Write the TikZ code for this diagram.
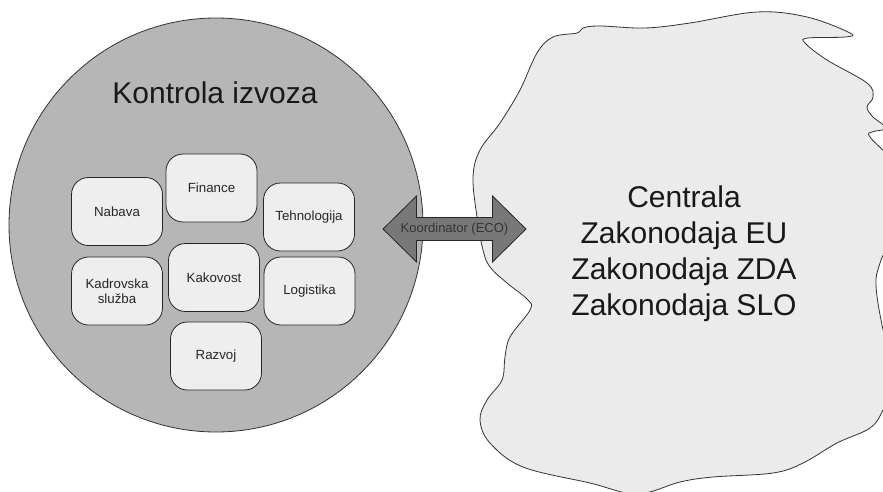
\documentclass[tikz,border=0pt]{standalone}
\usepackage{fontspec}
\setmainfont{Liberation Sans}
\usepackage{tikz}
\usetikzlibrary{positioning,calc}
\definecolor{diskgray}{HTML}{B6B6B6}
\definecolor{boxgray}{HTML}{EEEEEE}
\definecolor{cloudgray}{HTML}{EBEBEB}
\definecolor{arrowgray}{HTML}{787878}
\tikzset{hubdisk/.style={draw=black!80,fill=diskgray,line width=.8pt}, deptbox/.style={draw=black!85,fill=boxgray,rounded corners=17pt,line width=.8pt,minimum width=91pt,minimum height=68pt,align=center,font=\fontsize{13.3}{15}\selectfont,text=black!85,inner sep=2pt}, cloudline/.style={draw=black!80,fill=cloudgray,line width=.8pt}, ecoarrow/.style={draw=black!85,fill=arrowgray,line width=.8pt}, bigtext/.style={font=\fontsize{30}{36}\selectfont,align=center,text=black!90}}

\begin{document}
\begin{tikzpicture}[x=1pt,y=-1pt]
\useasboundingbox (0,0) rectangle (883,492);
\clip (0,0) rectangle (883,492);
\fill[white] (0,0) rectangle (883,492);
\draw[cloudline] plot[smooth cycle,tension=.6] coordinates {(480,150) (500,123) (520,90) (537,53) (553,37) (577,33) (583,28) (600,26) (645,28) (690,23) (757,12) (807,17) (850,33) (845,37) (808,38) (805,43) (827,60) (867,83) (873,97) (867,107) (873,117) (886,128) (872,132) (870,137) (892,165) (896,220) (880,263) (876,285) (882,325) (895,380) (883,410) (870,428) (837,443) (803,463) (773,473) (713,477) (680,482) (637,494) (590,483) (523,467) (490,443) (480,420) (487,400) (502,380) (505,357) (510,337) (530,310) (528,300) (507,283) (490,267) (483,250) (477,217) (473,177)};
\node[bigtext] (central) at (684,254) {Centrala\\Zakonodaja EU\\Zakonodaja ZDA\\Zakonodaja SLO};
\draw[hubdisk] (216,225) circle [radius=207];
\node[bigtext] (title) at (215,93) {Kontrola izvoza};
\node[deptbox] (fin) at (211.5,188) {Finance};
\node[deptbox] (nab) at (117,211.5) {Nabava};
\node[deptbox] (teh) at (309,217) {Tehnologija};
\node[deptbox] (kad) at (117,291) {Kadrovska\\služba};
\node[deptbox] (kak) at (214,277.5) {Kakovost};
\node[deptbox] (log) at (309.5,291) {Logistika};
\node[deptbox] (raz) at (216,356) {Razvoj};
\coordinate (eco) at (454.5,229);
\draw[ecoarrow] ($(eco)+(-71.5,0)$) -- ++(33.5,-33) -- ++(0,21.5) -- ++(76,0) -- ++(0,-21.5) -- ++(33.5,33) -- ++(-33.5,33) -- ++(0,-21.5) -- ++(-76,0) -- ++(0,21.5) -- cycle;
\node[font=\fontsize{13}{15}\selectfont,text=black!80] (koord) at (eco) {Koordinator (ECO)};
\end{tikzpicture}
\end{document}
